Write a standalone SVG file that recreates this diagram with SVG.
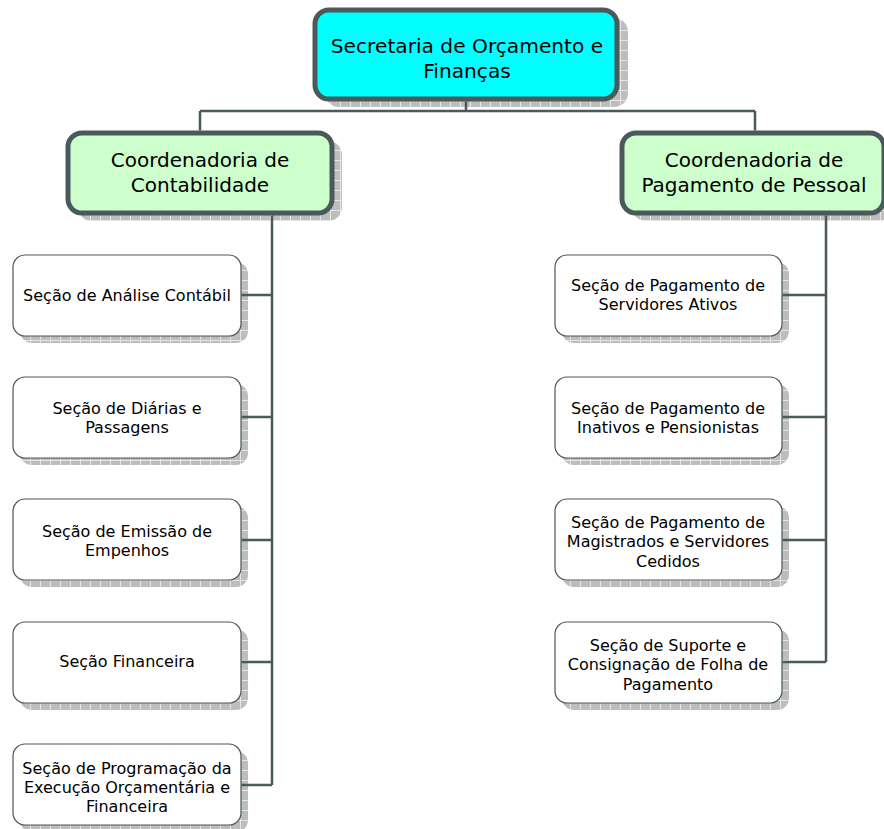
<svg xmlns="http://www.w3.org/2000/svg" width="884" height="829" viewBox="0 0 884 829">
<defs>
<pattern id="grid" x="0" y="0" width="10" height="10" patternUnits="userSpaceOnUse">
<rect width="10" height="10" fill="#bdbdbd"/>
<path d="M0 0.5H10M0.5 0V10" stroke="#e6e6e6" stroke-width="1" fill="none"/>
</pattern>
</defs>
<style>
.sh{fill:url(#grid);}
.top{fill:#00ffff;stroke:#4a5959;stroke-width:5;}
.co{fill:#ccffcc;stroke:#4a5959;stroke-width:5;}
.se{fill:#ffffff;stroke:#4a5959;stroke-width:1.2;}
.ln{stroke:#4a5959;stroke-width:2.5;fill:none;}
text{font-family:"DejaVu Sans",Verdana,sans-serif;fill:#000;text-anchor:middle;}
.t1{font-size:20.2px;}
.t2{font-size:20px;}
.t3{font-size:16px;}
</style>
<rect width="884" height="829" fill="#ffffff"/>
<g id="n-sec">
<rect class="sh" x="325" y="18" width="303" height="89" rx="14"/>
<rect class="top" x="315" y="10" width="302" height="89" rx="14"/>
<text class="t1" x="467" y="53">Secretaria de Orçamento e</text>
<text class="t1" x="467" y="78">Finanças</text>
</g>
<g id="n-cont">
<rect class="sh" x="78" y="141" width="264" height="80" rx="14"/>
<rect class="co" x="68" y="133" width="264" height="80" rx="14"/>
<text class="t2" x="200" y="167">Coordenadoria de</text>
<text class="t2" x="200" y="192">Contabilidade</text>
</g>
<g id="n-pag">
<rect class="sh" x="632" y="141" width="262" height="80" rx="14"/>
<rect class="co" x="622" y="133" width="262" height="80" rx="14"/>
<text class="t2" x="754" y="167">Coordenadoria de</text>
<text class="t2" x="754" y="192">Pagamento de Pessoal</text>
</g>
<g id="s1">
<rect class="sh" x="20" y="262" width="228" height="81" rx="12"/>
<rect class="se" x="13" y="255" width="228" height="81" rx="12"/>
<text class="t3" x="127" y="301">Seção de Análise Contábil</text>
</g>
<g id="s2">
<rect class="sh" x="20" y="384" width="228" height="81" rx="12"/>
<rect class="se" x="13" y="377" width="228" height="81" rx="12"/>
<text class="t3" x="127" y="414">Seção de Diárias e</text>
<text class="t3" x="127" y="433">Passagens</text>
</g>
<g id="s3">
<rect class="sh" x="20" y="506" width="228" height="81" rx="12"/>
<rect class="se" x="13" y="499" width="228" height="81" rx="12"/>
<text class="t3" x="127" y="537">Seção de Emissão de</text>
<text class="t3" x="127" y="556">Empenhos</text>
</g>
<g id="s4">
<rect class="sh" x="20" y="629" width="228" height="81" rx="12"/>
<rect class="se" x="13" y="622" width="228" height="81" rx="12"/>
<text class="t3" x="127" y="667">Seção Financeira</text>
</g>
<g id="s5">
<rect class="sh" x="20" y="751" width="228" height="81" rx="12"/>
<rect class="se" x="13" y="744" width="228" height="81" rx="12"/>
<text class="t3" x="127" y="774">Seção de Programação da</text>
<text class="t3" x="127" y="793">Execução Orçamentária e</text>
<text class="t3" x="127" y="812">Financeira</text>
</g>
<g id="r1">
<rect class="sh" x="562" y="262" width="227" height="81" rx="12"/>
<rect class="se" x="555" y="255" width="227" height="81" rx="12"/>
<text class="t3" x="668" y="291">Seção de Pagamento de</text>
<text class="t3" x="668" y="310">Servidores Ativos</text>
</g>
<g id="r2">
<rect class="sh" x="562" y="384" width="227" height="81" rx="12"/>
<rect class="se" x="555" y="377" width="227" height="81" rx="12"/>
<text class="t3" x="668" y="414">Seção de Pagamento de</text>
<text class="t3" x="668" y="433">Inativos e Pensionistas</text>
</g>
<g id="r3">
<rect class="sh" x="562" y="506" width="227" height="81" rx="12"/>
<rect class="se" x="555" y="499" width="227" height="81" rx="12"/>
<text class="t3" x="668" y="528">Seção de Pagamento de</text>
<text class="t3" x="668" y="547">Magistrados e Servidores</text>
<text class="t3" x="668" y="567">Cedidos</text>
</g>
<g id="r4">
<rect class="sh" x="562" y="629" width="227" height="81" rx="12"/>
<rect class="se" x="555" y="622" width="227" height="81" rx="12"/>
<text class="t3" x="668" y="651">Seção de Suporte e</text>
<text class="t3" x="668" y="670">Consignação de Folha de</text>
<text class="t3" x="668" y="690">Pagamento</text>
</g>
<g id="connectors">
<path class="ln" d="M466 101.5V111M200 111H755M200 111V130.5M755 111V130.5"/>
<path class="ln" d="M272 215.5V785M241.6 295H272M241.6 417H272M241.6 540H272M241.6 662H272M241.6 785H272"/>
<path class="ln" d="M826 215.5V662M782.6 295H826M782.6 417H826M782.6 540H826M782.6 662H826"/>
</g>
</svg>
